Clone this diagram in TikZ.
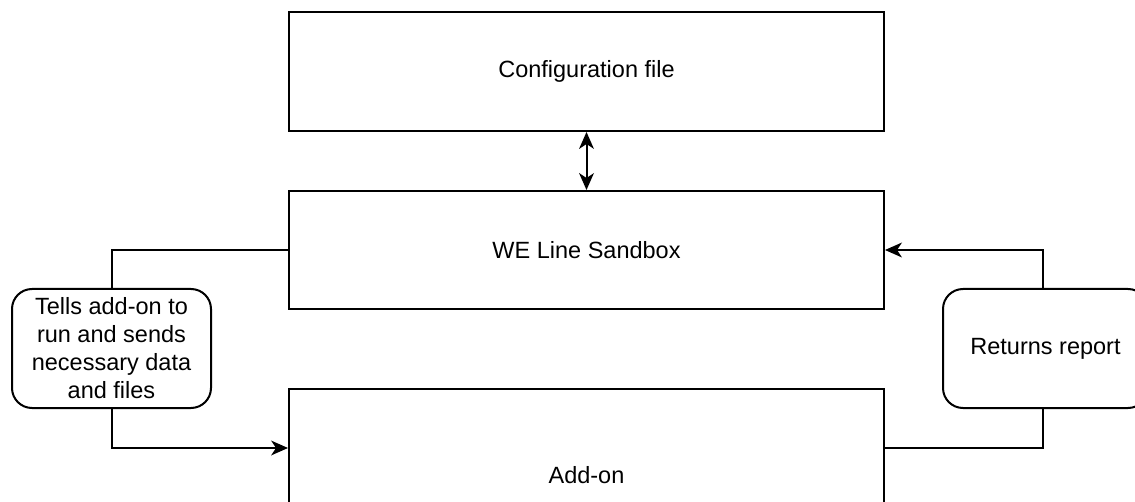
\documentclass[tikz,border=0pt]{standalone}
\usepackage{fontspec}
\setmainfont{Liberation Sans}
\usetikzlibrary{arrows.meta}
\begin{document}
\begin{tikzpicture}[x=1pt,y=-1pt,
  every node/.style={font=\fontsize{23.5}{28}\selectfont, text=black},
  mainbox/.style={draw=black, line width=2pt, fill=white, rectangle, minimum width=595pt, inner sep=0pt, align=center},
  notebox/.style={draw=black, line width=2pt, fill=white, rectangle, rounded corners=20pt, minimum width=199pt, minimum height=119pt, inner sep=0pt, align=center},
  conn/.style={draw=black, line width=2pt},
  tip/.tip={Stealth[length=17pt,width=15pt,inset=5pt,line width=0pt]},
  arr/.style={-tip}
]
\useasboundingbox (0,0) rectangle (1135,502);
\fill[white] (0,0) rectangle (1135,502);
\clip (0,0) rectangle (1135,502);

\node[mainbox, minimum height=119pt] (cfg) at (586.5,71.5) {Configuration file};
\node[mainbox, minimum height=118pt] (sbx) at (586.5,250) {WE Line Sandbox};
\node[mainbox, minimum height=172pt] (add) at (586.5,475) {Add-on};

\node[notebox] (tell) at (111.5,348.5) {Tells add-on to\\run and sends\\necessary data\\and files};
\node[notebox, minimum width=205pt] (ret) at (1045.5,348.5) {Returns report};

\coordinate (ain) at (add.west |- 0,448);
\coordinate (aout) at (add.east |- 0,448);
\coordinate (rtop) at (1042.5,0 |- ret.north);
\coordinate (rbot) at (1042.5,0 |- ret.south);

\draw[conn, tip-tip] (cfg.south) -- (sbx.north);
\draw[conn] (sbx.west) -| (tell.north);
\draw[conn, arr] (tell.south) |- (ain);
\draw[conn] (aout) -| (rbot);
\draw[conn, arr] (rtop) |- (sbx.east);
\end{tikzpicture}
\end{document}
